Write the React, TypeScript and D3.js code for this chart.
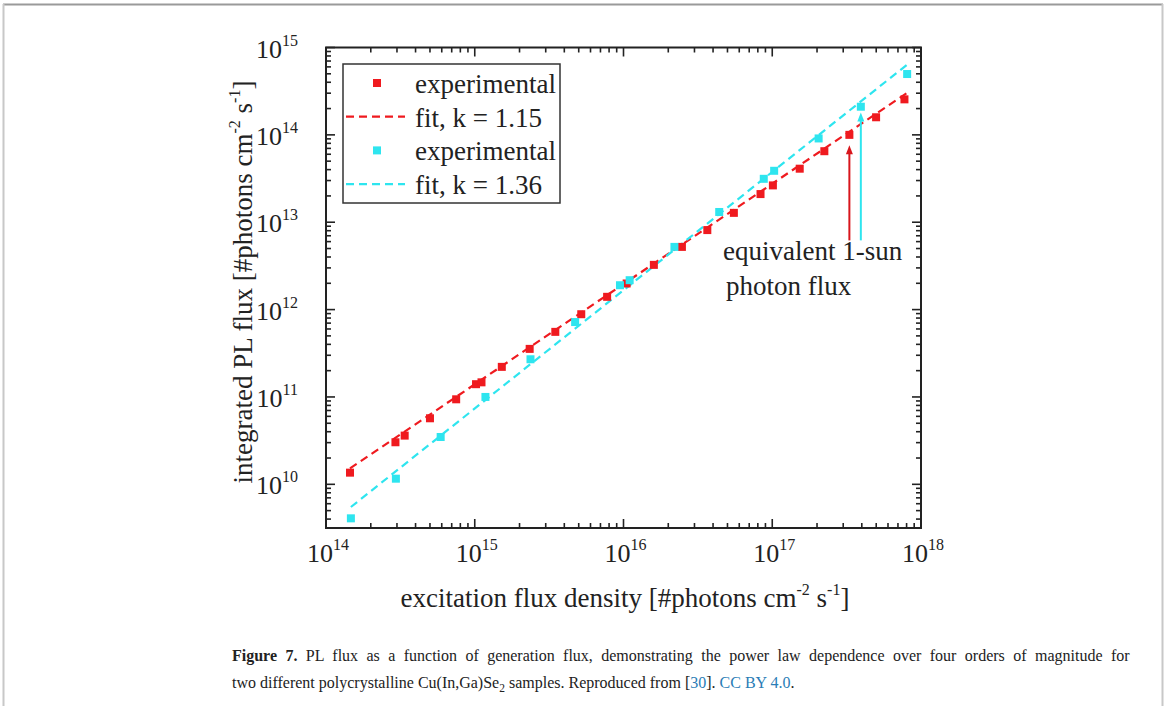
import React from "react";
import * as d3 from "d3";

// ---- data ----
const redX = [1.45e14, 2.93e14, 3.38e14, 5.0e14, 7.5e14, 1.02e15, 1.11e15, 1.52e15, 2.34e15, 3.48e15, 5.2e15, 7.76e15, 1.05e16, 1.6e16, 2.47e16, 3.66e16, 5.52e16, 8.34e16, 1.01e17, 1.53e17, 2.24e17, 3.3e17, 4.99e17, 7.74e17];
const redY = [1.36e10, 3.03e10, 3.61e10, 5.7e10, 9.4e10, 1.4e11, 1.47e11, 2.21e11, 3.55e11, 5.56e11, 8.85e11, 1.4e12, 1.99e12, 3.25e12, 5.22e12, 8.13e12, 1.28e13, 2.1e13, 2.64e13, 4.1e13, 6.5e13, 1.0e14, 1.59e14, 2.55e14];
const cyanX = [1.47e14, 2.95e14, 5.9e14, 1.18e15, 2.37e15, 4.73e15, 9.47e15, 1.1e16, 2.2e16, 4.4e16, 8.77e16, 1.03e17, 2.05e17, 3.94e17, 8.07e17];
const cyanY = [4.08e9, 1.16e10, 3.48e10, 1.0e11, 2.7e11, 7.2e11, 1.9e12, 2.17e12, 5.22e12, 1.31e13, 3.14e13, 3.88e13, 9.1e13, 2.1e14, 4.97e14];

// fit lines (endpoints)
const redFitX = [1.45e14, 8.0e17];
const redFitY = [1.52e10, 3.0e14];
const cyanFitX = [1.47e14, 8.1e17];
const cyanFitY = [5.5e9, 6.4e14];

// 1-sun arrows: x position, tail y, tip y
const arrowX = [3.3e17, 3.94e17];
const arrowTailY = [6.2e12, 6.2e12];
const arrowTipY = [7.6e13, 1.8e14];

const xDecades = [14, 15, 16, 17, 18];
const yDecades = [10, 11, 12, 13, 14, 15];
const legendLabels = ["experimental", "fit, k = 1.15", "experimental", "fit, k = 1.36"];
const xTitle = "excitation flux density [#photons cm";
const yTitle = "integrated PL flux [#photons cm";

const RED = "#ef1a1f";
const CYAN = "#2ee5ef";
const FONT = "'Liberation Serif', 'Times New Roman', serif";

export default function App() {
  const L = 326, R = 921, T = 47.5, B = 528;
  const x = d3.scaleLog().domain([1e14, 1e18]).range([L, R]);
  const y = d3.scaleLog().domain([Math.pow(10, 9.5), 1e15]).range([B, T]);

  const line = d3.line<[number, number]>().x((d) => x(d[0])).y((d) => y(d[1]));

  // ticks
  const xTicks: { v: number; major: boolean }[] = [];
  for (let e = 14; e < 18; e++) for (let k = 1; k < 10; k++) xTicks.push({ v: k * Math.pow(10, e), major: k === 1 });
  xTicks.push({ v: 1e18, major: true });
  const yTicks: { v: number; major: boolean }[] = [];
  for (let e = 9; e < 15; e++) for (let k = 1; k < 10; k++) {
    const v = k * Math.pow(10, e);
    if (v >= Math.pow(10, 9.5) - 1) yTicks.push({ v, major: k === 1 });
  }
  yTicks.push({ v: 1e15, major: true });

  const MJ = 9, MN = 5;
  const sq = 8;

  const arrowHead = (xx: number, yy: number, color: string) => (
    <path d={`M${xx},${yy} L${xx - 3.5},${yy + 9} L${xx + 3.5},${yy + 9} Z`} fill={color} />
  );

  return (
    <div style={{ position: "absolute", left: 0, top: 0 }}>
      <svg width={1167} height={706} style={{ display: "block", fontFamily: FONT }}>
        <rect x={0} y={0} width={1167} height={706} fill="#fff" />
        {/* page frame */}
        <line x1={3} y1={4.5} x2={1163} y2={4.5} stroke="#9a9a9a" strokeWidth={2} />
        <line x1={3.5} y1={4} x2={3.5} y2={706} stroke="#c8c8c8" strokeWidth={2} />
        <line x1={1162.5} y1={4} x2={1162.5} y2={706} stroke="#c8c8c8" strokeWidth={2} />

        {/* fit lines */}
        <path d={line(redFitX.map((v, i) => [v, redFitY[i]]) as any) || ""} fill="none" stroke={RED} strokeWidth={2.2} strokeDasharray="8,5" />
        <path d={line(cyanFitX.map((v, i) => [v, cyanFitY[i]]) as any) || ""} fill="none" stroke={CYAN} strokeWidth={2.2} strokeDasharray="8,5" />

        {/* points */}
        {redX.map((v, i) => (
          <rect key={"r" + i} x={x(v) - sq / 2} y={y(redY[i]) - sq / 2} width={sq} height={sq} fill={RED} />
        ))}
        {cyanX.map((v, i) => (
          <rect key={"c" + i} x={x(v) - sq / 2} y={y(cyanY[i]) - sq / 2} width={sq} height={sq} fill={CYAN} />
        ))}

        {/* arrows */}
        <line x1={x(arrowX[0])} x2={x(arrowX[0])} y1={y(arrowTailY[0])} y2={y(arrowTipY[0]) + 8} stroke="#d8161c" strokeWidth={2} />
        {arrowHead(x(arrowX[0]), y(arrowTipY[0]), "#d8161c")}
        <line x1={x(arrowX[1])} x2={x(arrowX[1])} y1={y(arrowTailY[1])} y2={y(arrowTipY[1]) + 8} stroke={CYAN} strokeWidth={2} />
        {arrowHead(x(arrowX[1]), y(arrowTipY[1]), CYAN)}

        <text x={723} y={260} fontSize={27} fill="#222">equivalent 1-sun</text>
        <text x={726} y={295} fontSize={27} fill="#222">photon flux</text>

        {/* frame */}
        <rect x={L} y={T} width={R - L} height={B - T} fill="none" stroke="#222" strokeWidth={2} />
        {xTicks.map((t, i) => {
          const xx = x(t.v);
          const len = t.major ? MJ : MN;
          return (
            <g key={"xt" + i}>
              <line x1={xx} x2={xx} y1={B} y2={B - len} stroke="#222" strokeWidth={1.6} />
              <line x1={xx} x2={xx} y1={T} y2={T + len} stroke="#222" strokeWidth={1.6} />
            </g>
          );
        })}
        {yTicks.map((t, i) => {
          const yy = y(t.v);
          const len = t.major ? MJ : MN;
          return (
            <g key={"yt" + i}>
              <line x1={L} x2={L + len} y1={yy} y2={yy} stroke="#222" strokeWidth={1.6} />
              <line x1={R} x2={R - len} y1={yy} y2={yy} stroke="#222" strokeWidth={1.6} />
            </g>
          );
        })}

        {/* tick labels */}
        {xDecades.map((e) => (
          <text key={"xl" + e} x={x(Math.pow(10, e)) + 2} y={562} fontSize={26} textAnchor="middle" fill="#222">
            10<tspan fontSize={16} dy={-12}>{e}</tspan>
          </text>
        ))}
        {yDecades.map((e) => (
          <text key={"yl" + e} x={298} y={y(Math.pow(10, e)) + 10} fontSize={26} textAnchor="end" fill="#222">
            10<tspan fontSize={16} dy={-12}>{e}</tspan>
          </text>
        ))}

        {/* axis titles */}
        <text x={625} y={607} fontSize={27} textAnchor="middle" fill="#222">
          {xTitle}
          <tspan fontSize={16} dy={-12}>-2</tspan>
          <tspan dy={12}> s</tspan>
          <tspan fontSize={16} dy={-12}>-1</tspan>
          <tspan dy={12}>]</tspan>
        </text>
        <text transform={`translate(252,282) rotate(-90)`} fontSize={27} textAnchor="middle" fill="#222">
          {yTitle}
          <tspan fontSize={16} dy={-12}>-2</tspan>
          <tspan dy={12}> s</tspan>
          <tspan fontSize={16} dy={-12}>-1</tspan>
          <tspan dy={12}>]</tspan>
        </text>

        {/* legend */}
        <rect x={343} y={64} width={217} height={139} fill="#fff" stroke="#333" strokeWidth={1.5} />
        {legendLabels.map((lab, i) => {
          const cy = 83 + i * 33.7;
          const color = i < 2 ? RED : CYAN;
          return (
            <g key={"lg" + i}>
              {i % 2 === 0 ? (
                <rect x={377 - sq / 2} y={cy - sq / 2} width={sq} height={sq} fill={color} />
              ) : (
                <line x1={346} x2={405} y1={cy} y2={cy} stroke={color} strokeWidth={2.2} strokeDasharray="8,5" />
              )}
              <text x={415} y={cy + 10} fontSize={27} fill="#222">{lab}</text>
            </g>
          );
        })}

        {/* caption */}
        <text x={232} y={661} fontSize={16} fill="#222" wordSpacing={4.4}>
          <tspan fontWeight="bold">Figure 7.</tspan>
          <tspan> PL flux as a function of generation flux, demonstrating the power law dependence over four orders of magnitude for</tspan>
        </text>
        <text x={232} y={688} fontSize={16} fill="#222">
          two different polycrystalline Cu(In,Ga)Se<tspan fontSize={11.5} dy={4}>2</tspan>
          <tspan dy={-4}> samples. Reproduced from [</tspan>
          <tspan fill="#2a7db6">30</tspan>
          <tspan>]. </tspan>
          <tspan fill="#2a7db6">CC BY 4.0</tspan>
          <tspan>.</tspan>
        </text>
      </svg>
    </div>
  );
}
